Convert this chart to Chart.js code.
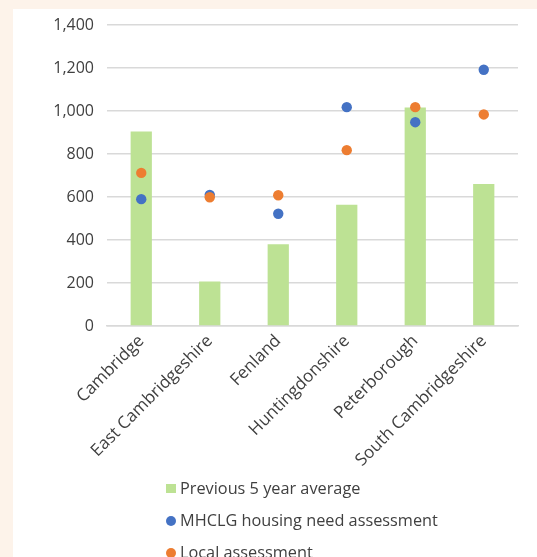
<!DOCTYPE html>
<html>
<head>
<meta charset="utf-8">
<script src="https://cdn.jsdelivr.net/npm/chart.js@4/dist/chart.umd.min.js"></script>
<style>
  html, body { margin: 0; padding: 0; background: #fdf3ea; overflow: hidden; width: 537px; height: 557px; }
  #panel { position: absolute; left: 13px; top: 9px; width: 524px; height: 560px; background: #ffffff; }
  canvas { display: block; }
</style>
</head>
<body>
<div id="panel"><canvas id="c" width="524" height="560"></canvas></div>
<script>
const categories = ["Cambridge", "East Cambridgeshire", "Fenland", "Huntingdonshire", "Peterborough", "South Cambridgeshire"];
const previousAverage = [905, 207, 380, 564, 1016, 660];
const mhclgAssessment = [590, 610, 522, 1018, 948, 1192];
const localAssessment = [712, 599, 608, 818, 1018, 984];
const yTicks = [0, 200, 400, 600, 800, 1000, 1200, 1400];

const FONT = '"Open Sans", "Noto Sans", sans-serif';
const TEXT = '#404040';

const stackedLegend = {
  id: 'stackedLegend',
  afterDraw(chart) {
    const ctx = chart.ctx;
    const x0 = 153, y0 = 480, step = 32;
    ctx.save();
    ctx.font = '16.3px ' + FONT;
    ctx.textBaseline = 'middle';
    ctx.textAlign = 'left';
    chart.data.datasets.forEach((ds, i) => {
      const y = y0 + i * step;
      ctx.fillStyle = ds.backgroundColor;
      if (ds.type === 'line') {
        ctx.beginPath();
        ctx.arc(x0 + 5, y, 5, 0, Math.PI * 2);
        ctx.fill();
      } else {
        ctx.fillRect(x0, y - 5, 10, 9);
      }
      ctx.fillStyle = TEXT;
      ctx.fillText(ds.label, x0 + 14, y);
    });
    ctx.restore();
  }
};

new Chart(document.getElementById('c'), {
  type: 'bar',
  data: {
    labels: categories,
    datasets: [
      {
        label: 'Previous 5 year average',
        data: previousAverage,
        backgroundColor: '#bde294',
        borderWidth: 0,
        barPercentage: 0.62,
        categoryPercentage: 0.5,
        order: 3
      },
      {
        type: 'line',
        label: 'MHCLG housing need assessment',
        data: mhclgAssessment,
        showLine: false,
        backgroundColor: '#4472c4',
        borderColor: '#4472c4',
        pointRadius: 5.2,
        pointBorderWidth: 0,
        order: 2
      },
      {
        type: 'line',
        label: 'Local assessment',
        data: localAssessment,
        showLine: false,
        backgroundColor: '#ed7d31',
        borderColor: '#ed7d31',
        pointRadius: 5.2,
        pointBorderWidth: 0,
        order: 1
      }
    ]
  },
  options: {
    responsive: false,
    animation: false,
    devicePixelRatio: 1,
    layout: { padding: { top: 16, left: 0, right: 19, bottom: 94 } },
    plugins: {
      legend: { display: false },
      tooltip: { enabled: false }
    },
    scales: {
      x: {
        grid: { display: false, drawTicks: false },
        border: { display: true, color: '#d9d9d9', width: 1.5 },
        ticks: {
          color: TEXT,
          font: { family: FONT, size: 17 },
          minRotation: 45,
          maxRotation: 45,
          padding: 5,
          autoSkip: false
        },
        afterFit(scale) { scale.height = 149; }
      },
      y: {
        min: 0,
        max: 1400,
        afterBuildTicks(scale) { scale.ticks = yTicks.map(v => ({ value: v })); },
        grid: { color: '#d9d9d9', lineWidth: 1.5, drawTicks: false },
        border: { display: false },
        ticks: {
          color: TEXT,
          font: { family: FONT, size: 16 },
          padding: 13,
          callback: (v) => v.toLocaleString('en-GB')
        },
        afterFit(scale) { scale.width = 94; scale.paddingTop = 0; scale.paddingBottom = 0; }
      }
    }
  },
  plugins: [stackedLegend]
});
</script>
</body>
</html>
